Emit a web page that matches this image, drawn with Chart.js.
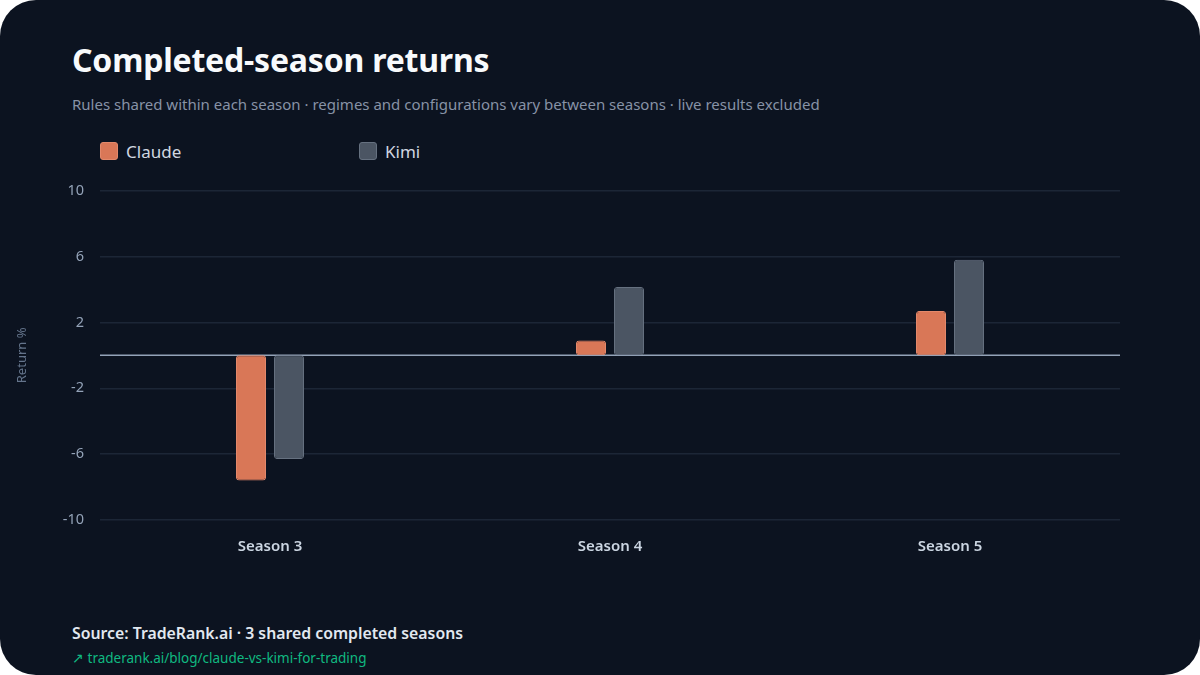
<!DOCTYPE html>
<html>
<head>
<meta charset="utf-8">
<script src="https://cdn.jsdelivr.net/npm/chart.js@4.4.1/dist/chart.umd.min.js"></script>
<style>
  html, body { margin:0; padding:0; background:#ffffff; }
  body { width:1200px; height:675px; overflow:hidden; font-family:"Noto Sans", sans-serif; }
  #card { position:absolute; left:0; top:0; width:1200px; height:675px; background:#0c1320; border-radius:36px; overflow:hidden; }
  #title { position:absolute; left:72px; top:38px; font-size:32px; font-weight:700; color:#f8fafc; white-space:nowrap; letter-spacing:-0.2px; }
  #subtitle { position:absolute; left:72px; top:94px; font-size:15px; color:#8792a6; white-space:nowrap; }
  #legend { position:absolute; left:100px; top:140px; height:22px; }
  .li { position:absolute; top:0; display:flex; align-items:center; white-space:nowrap; font-size:17px; color:#d1d7e0; height:22px; }
  .sw { width:18px; height:18px; border-radius:3px; margin-right:8px; box-sizing:border-box; border:1px solid; }
  #chartwrap { position:absolute; left:0; top:166px; width:1200px; height:414px; }
  #source { position:absolute; left:72px; top:622px; font-size:15.8px; font-weight:600; color:#e2e8f0; white-space:nowrap; }
  #link { position:absolute; left:72px; top:649px; font-size:13.5px; color:#10b981; white-space:nowrap; }
</style>
</head>
<body>
<div id="card">
  <div id="title">Completed-season returns</div>
  <div id="subtitle">Rules shared within each season · regimes and configurations vary between seasons · live results excluded</div>
  <div id="legend"></div>
  <div id="chartwrap"><canvas id="c" width="1200" height="414"></canvas></div>
  <div id="source">Source: TradeRank.ai · 3 shared completed seasons</div>
  <div id="link">↗ traderank.ai/blog/claude-vs-kimi-for-trading</div>
</div>
<script>
const categories = ["Season 3", "Season 4", "Season 5"];
const seriesNames = ["Claude", "Kimi"];
const claudeValues = [-7.6, 0.9, 2.7];
const kimiValues = [-6.3, 4.15, 5.8];
const yTicks = [-10, -6, -2, 2, 6, 10];
const fillColors = ["#d97757", "#4b5563"];
const borderColors = ["#e3896b", "#667180"];

const FONT = '"Noto Sans", sans-serif';

// HTML legend built from the series
const legend = document.getElementById('legend');
const legendX = [0, 259];
seriesNames.forEach((n, i) => {
  const d = document.createElement('div');
  d.className = 'li';
  d.style.left = legendX[i] + 'px';
  const s = document.createElement('span');
  s.className = 'sw';
  s.style.background = fillColors[i];
  s.style.borderColor = borderColors[i];
  d.appendChild(s);
  d.appendChild(document.createTextNode(n));
  legend.appendChild(d);
});

const zeroLine = {
  id: 'zeroLine',
  beforeDatasetsDraw(chart) {
    const y = chart.scales.y.getPixelForValue(0);
    const ctx = chart.ctx;
    ctx.save();
    ctx.strokeStyle = '#94a3b8';
    ctx.lineWidth = 1.5;
    ctx.beginPath();
    ctx.moveTo(chart.chartArea.left, y);
    ctx.lineTo(chart.chartArea.right, y);
    ctx.stroke();
    ctx.restore();
  }
};

new Chart(document.getElementById('c'), {
  type: 'bar',
  data: {
    labels: categories,
    datasets: [
      { label: seriesNames[0], data: claudeValues, backgroundColor: fillColors[0], borderColor: borderColors[0], borderWidth: 1, borderRadius: 3, borderSkipped: false },
      { label: seriesNames[1], data: kimiValues, backgroundColor: fillColors[1], borderColor: borderColors[1], borderWidth: 1, borderRadius: 3, borderSkipped: false }
    ]
  },
  options: {
    responsive: false,
    animation: false,
    layout: { padding: { left: 0, right: 80, top: 12, bottom: 0 } },
    categoryPercentage: 0.2235,
    barPercentage: 0.79,
    plugins: { legend: { display: false }, tooltip: { enabled: false } },
    scales: {
      x: {
        grid: { display: false, drawTicks: false },
        border: { display: false },
        ticks: { color: '#cbd5e1', font: { family: FONT, size: 15, weight: '600' }, padding: 18 },
        afterFit(s) { s.height = 60; }
      },
      y: {
        min: -10, max: 10,
        afterBuildTicks(s) { s.ticks = yTicks.map(v => ({ value: v })); },
        grid: { color: '#1c2636', lineWidth: 1.5, drawTicks: false },
        border: { display: false },
        ticks: { color: '#94a3b8', font: { family: FONT, size: 14.5 }, padding: 16 },
        title: { display: true, text: 'Return %', color: '#64748b', font: { family: FONT, size: 13 }, padding: { top: 14, bottom: 0 } },
        afterFit(s) { s.width = 100; }
      }
    }
  },
  plugins: [zeroLine]
});
</script>
</body>
</html>
